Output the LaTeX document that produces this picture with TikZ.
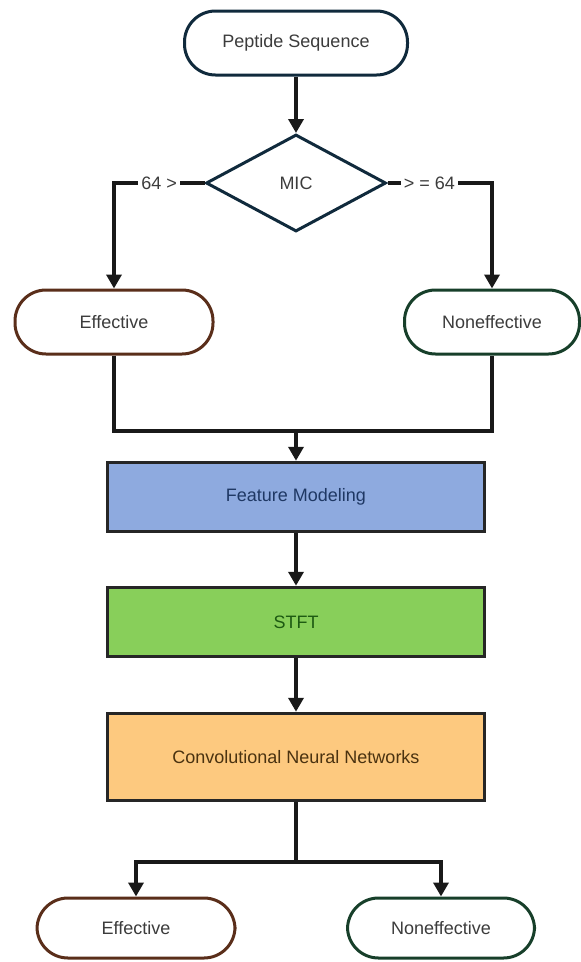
\documentclass[tikz,border=0pt]{standalone}
\usepackage{fontspec}
\setmainfont{Liberation Sans}
\usetikzlibrary{shapes.geometric,arrows.meta}

\definecolor{navyline}{HTML}{102A3C}
\definecolor{brownline}{HTML}{5A2E1A}
\definecolor{greenline}{HTML}{173F2A}
\definecolor{txtgrey}{HTML}{3C3C3C}
\definecolor{featfill}{HTML}{8EAADF}
\definecolor{feattext}{HTML}{1F3864}
\definecolor{stftfill}{HTML}{88CF5A}
\definecolor{stfttext}{HTML}{1D5A12}
\definecolor{cnnfill}{HTML}{FDC97F}
\definecolor{cnntext}{HTML}{4A3210}

\tikzset{
  term/.style={draw, line width=3pt, fill=white, text=txtgrey,
    rounded corners=31pt, minimum height=64pt, inner sep=0pt,
    font=\fontsize{18}{20}\selectfont},
  proc/.style={draw=black!85, line width=3.5pt, minimum width=377pt,
    minimum height=69pt, inner sep=0pt, font=\fontsize{18}{20}\selectfont},
  wire/.style={line width=3.5pt, black!90},
  link/.style={wire, -{Triangle[length=14pt,width=15pt]}},
  lbl/.style={fill=white, text=txtgrey, inner sep=3pt,
    font=\fontsize{18}{20}\selectfont}
}

\begin{document}
\begin{tikzpicture}[x=1pt, y=-1pt]
    \useasboundingbox (0, 0) rectangle (581, 962);

    \node[term, draw=navyline, minimum width=223pt] (pep) at (296, 43) {Peptide Sequence};
    \node[diamond, draw=navyline, line width=3pt, minimum width=180pt, minimum height=97pt,
      inner sep=0pt, text=txtgrey, font=\fontsize{18}{20}\selectfont] (mic) at (296, 183) {MIC};

    \node[term, draw=brownline, minimum width=198pt] (eff1) at (114, 322) {Effective};
    \node[term, draw=greenline, minimum width=175pt] (nef1) at (492, 322) {Noneffective};

    \coordinate (join) at (296, 431);

    \node[proc, fill=featfill, text=feattext] (feat) at (296, 497) {Feature Modeling};
    \node[proc, fill=stftfill, text=stfttext] (stft) at (296, 622) {STFT};
    \node[proc, fill=cnnfill, text=cnntext, minimum height=87pt] (cnn) at (296, 757)
      {Convolutional Neural Networks};

    \coordinate (split) at (296, 862);

    \node[term, draw=brownline, minimum width=198pt, minimum height=60pt] (eff2) at (136, 928) {Effective};
    \node[term, draw=greenline, minimum width=187pt, minimum height=60pt] (nef2) at (441, 928) {Noneffective};

    % decision
    \draw[link] (pep) -- (mic);
    \draw[link] (mic.west) -| node[lbl, pos=0.25] {64 >} (eff1.north);
    \draw[link] (mic.east) -| node[lbl, pos=0.2] {> = 64} (nef1.north);

    % merge into the pipeline
    \draw[wire] (eff1.south) |- (join) -| (nef1.south);
    \draw[link] (join) -- (feat);
    \draw[link] (feat) -- (stft);
    \draw[link] (stft) -- (cnn);

    % output
    \draw[wire] (cnn) -- (split);
    \draw[link] (split) -| (eff2.north);
    \draw[link] (split) -| (nef2.north);
\end{tikzpicture}
\end{document}
